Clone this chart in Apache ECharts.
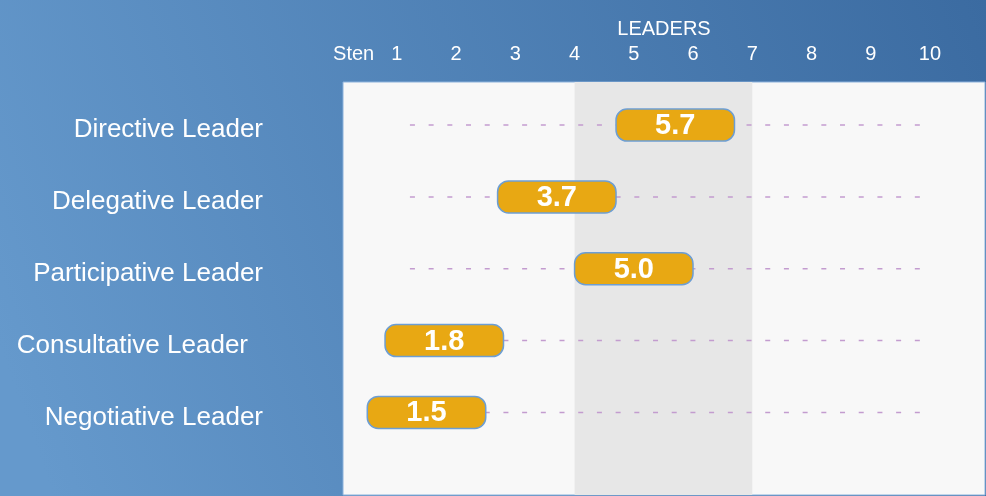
<!DOCTYPE html>
<html>
<head>
<meta charset="utf-8">
<script src="https://cdn.jsdelivr.net/npm/echarts@6/dist/echarts.min.js"></script>
<style>
html,body{margin:0;padding:0;}
#c{width:986px;height:496px;}
</style>
</head>
<body>
<div id="c"></div>
<script>
// ---- data ----
var categories = ['Directive Leader', 'Delegative Leader', 'Participative Leader', 'Consultative Leader', 'Negotiative Leader'];
var scores = [5.7, 3.7, 5.0, 1.8, 1.5];
var tickValues = [1, 2, 3, 4, 5, 6, 7, 8, 9, 10];
var axisTitle = 'LEADERS';
var stenLabel = 'Sten';
var bandRange = [4, 7];
var trackRange = [1.22, 9.83];

// ---- chart ----
var chart = echarts.init(document.getElementById('c'), null, {renderer: 'canvas'});
var font = '"Liberation Sans", Arial, sans-serif';
var rowIdx = categories.map(function (_, i) { return i; });

var option = {
  animation: false,
  backgroundColor: {
    type: 'linear', x: 0, y: 0.7, x2: 1, y2: 0,
    colorStops: [{offset: 0, color: '#6599cc'}, {offset: 1, color: '#3b6ba1'}]
  },
  grid: {
    left: 343, right: 1, top: 82, bottom: 1,
    show: true, backgroundColor: '#f8f8f8', borderColor: '#8cb2dc', borderWidth: 1
  },
  xAxis: {
    type: 'value', position: 'top', min: 0.09, max: 10.93,
    name: axisTitle, nameLocation: 'middle', nameGap: 43,
    nameTextStyle: {color: '#ffffff', fontSize: 20, fontFamily: font},
    axisLine: {show: false}, axisTick: {show: false}, splitLine: {show: false},
    axisLabel: {
      customValues: [0.27].concat(tickValues),
      margin: 18, color: '#ffffff', fontSize: 20, fontFamily: font,
      formatter: function (v) { return v < 0.5 ? stenLabel : String(v); }
    }
  },
  yAxis: {
    type: 'value', inverse: true, min: -0.6, max: 5.15,
    axisLine: {show: false}, axisTick: {show: false}, splitLine: {show: false},
    axisLabel: {
      customValues: rowIdx,
      margin: 80, color: '#ffffff', fontSize: 26, fontFamily: font,
      padding: [10, 0, 0, 0],
      formatter: function (v) {
        var name = categories[Math.round(v)];
        return name === 'Consultative Leader' ? '{c|' + name + '}' : name;
      },
      rich: {c: {color: '#ffffff', fontSize: 26, fontFamily: font, padding: [0, 15, 0, 0]}}
    }
  },
  series: [
    {
      type: 'custom', silent: true, z: 1,
      data: [],
      renderItem: function () { return null; },
      markArea: {
        silent: true,
        itemStyle: {color: '#e7e7e7'},
        data: [[{xAxis: bandRange[0]}, {xAxis: bandRange[1]}]]
      }
    },
    {
      type: 'custom', silent: true, z: 2,
      data: rowIdx.map(function (i) { return [trackRange[0], i, trackRange[1]]; }),
      renderItem: function (params, api) {
        var p1 = api.coord([api.value(0), api.value(1)]);
        var p2 = api.coord([api.value(2), api.value(1)]);
        return {
          type: 'line',
          shape: {x1: p1[0], y1: p1[1], x2: p2[0], y2: p2[1]},
          style: {stroke: '#c39ccf', lineWidth: 1.5, lineDash: [5, 13.7]}
        };
      }
    },
    {
      type: 'custom', silent: true, z: 3,
      data: scores.map(function (v, i) { return [v, i]; }),
      renderItem: function (params, api) {
        var v = api.value(0), r = api.value(1);
        var a = api.coord([v - 1, r]);
        var b = api.coord([v + 1, r]);
        var h = 32;
        return {
          type: 'group',
          children: [
            {
              type: 'rect',
              shape: {x: a[0], y: a[1] - h / 2, width: b[0] - a[0], height: h, r: 11},
              style: {fill: '#e8a813', stroke: '#6d9ed3', lineWidth: 1.5}
            },
            {
              type: 'text',
              style: {
                x: (a[0] + b[0]) / 2, y: a[1] + 1,
                text: v.toFixed(1), fill: '#ffffff',
                font: 'bold 29px ' + font,
                align: 'center', verticalAlign: 'middle'
              }
            }
          ]
        };
      }
    }
  ]
};
chart.setOption(option);
</script>
</body>
</html>
